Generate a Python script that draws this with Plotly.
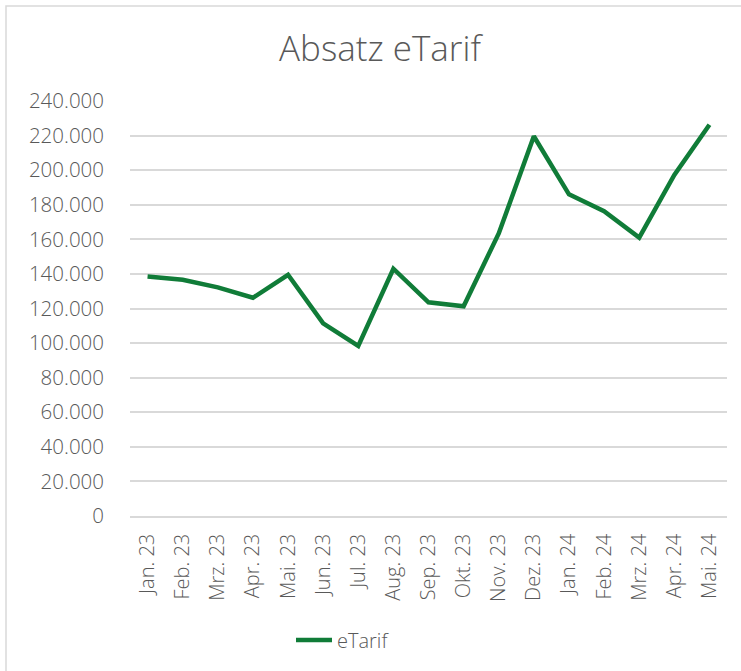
import plotly.graph_objects as go

months = ["Jan. 23", "Feb. 23", "Mrz. 23", "Apr. 23", "Mai. 23", "Jun. 23", "Jul. 23",
          "Aug. 23", "Sep. 23", "Okt. 23", "Nov. 23", "Dez. 23", "Jan. 24", "Feb. 24",
          "Mrz. 24", "Apr. 24", "Mai. 24"]
etarif = [138500, 136600, 132200, 126200, 139500, 111400, 98400, 143000, 123600,
          121300, 163400, 219600, 186000, 176300, 161000, 197300, 226300]
y_ticks = [0, 20000, 40000, 60000, 80000, 100000, 120000, 140000, 160000, 180000,
           200000, 220000, 240000]

W, H = 741, 671
L, R, T, B = 130, 14, 101, 155
pw, ph = W - L - R, H - T - B

fig = go.Figure()
fig.add_trace(go.Scatter(x=months, y=etarif, mode="lines", name="eTarif",
                         line=dict(color="#107C38", width=4.5)))

font_main = "Open Sans"
grey = "#595959"

fig.update_layout(
    width=W, height=H,
    margin=dict(l=L, r=R, t=T, b=B),
    paper_bgcolor="white", plot_bgcolor="white",
    separators=",.",
    title=dict(text="Absatz eTarif", x=380 / W, xanchor="center", xref="container",
               y=1 - 49 / H, yanchor="middle", yref="container",
               font=dict(family=font_main, size=35, color=grey, weight=300)),
    xaxis=dict(tickangle=-90, showgrid=False, showline=True, linecolor="#d9d9d9",
               linewidth=1.5, ticks="", ticklabelstandoff=8,
               tickfont=dict(family=font_main, size=20, color=grey, weight=300),
               range=[-0.5, len(months) - 0.5], fixedrange=True),
    yaxis=dict(range=[0, 240000], tickvals=y_ticks, tickformat=",d",
               showgrid=True, gridcolor="#d9d9d9", gridwidth=1.5, zeroline=False,
               showline=False, ticks="", ticklabelstandoff=25,
               tickfont=dict(family=font_main, size=20.5, color=grey, weight=300)),
    showlegend=True,
    legend=dict(orientation="h", x=(291 - L) / pw, xanchor="left",
                y=(H - B - 640) / ph, yanchor="middle",
                font=dict(family=font_main, size=20, color=grey, weight=300),
                itemwidth=36, bgcolor="rgba(0,0,0,0)"),
)

# light chart-area border (left and top edges visible in the reference)
fig.add_shape(type="rect", xref="paper", yref="paper",
              x0=(6 - L) / pw, x1=(W + 20 - L) / pw,
              y0=(H - B - (H + 20)) / ph, y1=1 + (T - 6) / ph,
              line=dict(color="#d9d9d9", width=1.5), fillcolor="rgba(0,0,0,0)", layer="below")

fig.write_html("out.html", config={"displayModeBar": False},
               post_script="document.body.style.margin='0';")
